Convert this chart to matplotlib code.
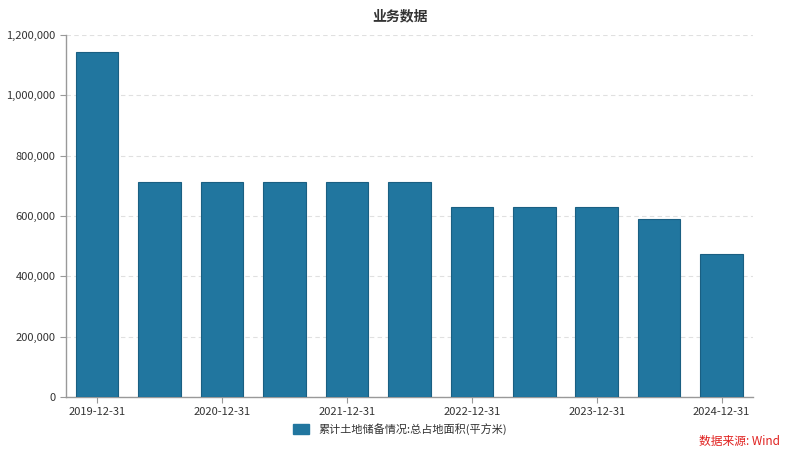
import matplotlib.pyplot as plt
from matplotlib.ticker import FuncFormatter
from matplotlib.patches import Patch

plt.rcParams['font.family'] = ['Noto Sans CJK SC', 'DejaVu Sans']

# data
dates = [
    '2019-12-31', '2020-06-30', '2020-12-31', '2021-06-30',
    '2021-12-31', '2022-06-30', '2022-12-31', '2023-06-30',
    '2023-12-31', '2024-06-30', '2024-12-31'
]
land_area = [
    1145000, 713000, 712000, 712000, 712000, 712000,
    631000, 631000, 631000, 590000, 475000
]
series_name = '累计土地储备情况:总占地面积(平方米)'
bar_color = '#21769f'

fig = plt.figure(figsize=(8, 4.54), dpi=100)
ax = fig.add_axes([0.0825, 0.1256, 0.8585, 0.797])

x = list(range(len(dates)))
ax.bar(x, land_area, width=0.68, color=bar_color,
       edgecolor='#1a5f82', linewidth=0.8, zorder=3)

ax.set_xlim(-0.5, len(dates) - 0.5)
ax.set_ylim(0, 1200000)
ax.set_yticks(range(0, 1200001, 200000))
ax.yaxis.set_major_formatter(FuncFormatter(lambda v, p: f'{int(v):,}'))

ax.set_xticks(x[::2])
ax.set_xticklabels(dates[::2])

ax.grid(axis='y', linestyle=(0, (4, 3)), color='#e0e0e0', linewidth=0.8, zorder=0)

for s in ['top', 'right']:
    ax.spines[s].set_visible(False)
for s in ['left', 'bottom']:
    ax.spines[s].set_color('#999999')
    ax.spines[s].set_linewidth(1)

ax.tick_params(axis='both', colors='#999999', labelcolor='#333333', labelsize=8, length=4)

fig.text(0.5, 0.965, '业务数据', ha='center', va='center',
         fontsize=10, fontweight='bold', color='#333333')

handle = Patch(facecolor=bar_color, edgecolor=bar_color, label=series_name)
fig.legend(handles=[handle], loc='center', bbox_to_anchor=(0.5, 0.055),
           frameon=False, fontsize=8, handlelength=1.4, handleheight=1.0,
           labelcolor='#333333')

fig.text(0.975, 0.028, '数据来源: Wind', ha='right', va='center',
         fontsize=8.5, color='#e0201e')

fig.savefig('out.png', dpi=100)
